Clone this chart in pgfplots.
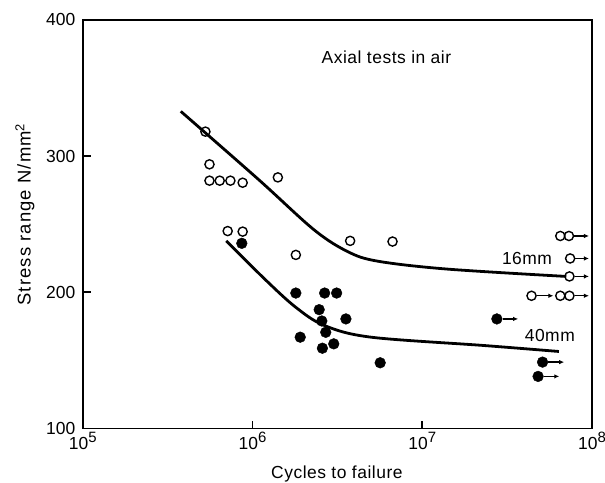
\documentclass[border=0pt]{standalone}
\usepackage{fontspec}
\setmainfont{Liberation Sans}
\newfontfamily\lsfont[LetterSpace=3]{Liberation Sans}
\newfontfamily\lsyfont[LetterSpace=6]{Liberation Sans}
\usepackage{pgfplots}
\pgfplotsset{compat=1.18}
\usetikzlibrary{arrows.meta}
\newcommand{\myfont}{\fontsize{17.5bp}{21bp}\selectfont}
\newcommand{\tp}[1]{10\raisebox{0.38em}{\fontsize{15bp}{15bp}\selectfont #1}}
\begin{document}
\begin{tikzpicture}[font=\myfont]
\begin{axis}[
  name=ax,
  scale only axis,
  width=511bp, height=410bp,
  xmode=log,
  xmin=1e5, xmax=1e8,
  ymin=100, ymax=400,
  axis line style={line width=1.8bp},
  tick style={line width=1.8bp, black},
  major tick length=8bp,
  tick align=inside,
  tick pos=left,
  xminorticks=false,
  yminorticks=false,
  xtick={1e5,1e6,1e7,1e8},
  xticklabels={\tp{5},\tp{6},\tp{7},\tp{8}},
  ytick={100,200,300,400},
  yticklabel style={xshift=-4bp},
  /pgf/number format/assume math mode=true,
  tick label style={font=\myfont},
  xlabel={Cycles to failure},
  ylabel={Stress range N/mm\textsuperscript{2}},
  xlabel style={font=\lsfont\myfont, at={(axis description cs:0.499,-0.11)}, anchor=center},
  ylabel style={font=\lsyfont\fontsize{18.5bp}{22bp}\selectfont, at={(axis description cs:-0.1135,0.524)}, anchor=center},
  clip=false,
]
% 16 mm curve
\addplot[line width=2.8bp, smooth, tension=0.55] coordinates {
 (3.78e5,332.9) (1.084e6,282.9) (2.3e6,246.0) (3.64e6,229.9) (5.46e6,222.9)
 (1.40e7,217.1) (7.05e7,211.7)};
% 40 mm curve
\addplot[line width=2.8bp, smooth, tension=0.55] coordinates {
 (7.01e5,237.8) (1.186e6,209.5) (1.80e6,189.0) (2.661e6,175.6) (4.99e6,167.1)
 (2.30e7,161.0) (6.38e7,156.6)};
% 16 mm data (open)
\addplot[only marks, mark=o, mark size=4.6bp, mark options={line width=1.4bp, fill=white}] coordinates {
 (5.28e5,318) (5.58e5,294) (5.58e5,282) (6.41e5,282) (7.41e5,282) (8.75e5,280.5)
 (1.41e6,284.4) (7.14e5,245) (8.75e5,244.6) (1.80e6,227.5) (3.76e6,237.8) (6.68e6,237.3)
 (6.50e7,241.4) (7.31e7,241.4) (7.43e7,224.9) (7.36e7,211.7) (4.40e7,197.5) (6.50e7,197.5) (7.36e7,197.5)};
% 40 mm data (filled)
\addplot[only marks, mark=*, mark size=5.4bp, black] coordinates {
 (8.65e5,236) (1.80e6,199.5) (2.66e6,199.5) (3.13e6,199.5) (2.47e6,187.3) (2.56e6,179)
 (3.55e6,180.5) (2.70e6,170.7) (1.91e6,167.1) (3.01e6,162.2) (2.58e6,159) (5.65e6,148.3)
 (2.75e7,180.5) (5.11e7,148.8) (4.81e7,138.3)};
% run-out arrows
\addplot[line width=1.3bp, -{Latex[length=5bp,width=4.5bp]}] coordinates {(7.85e7,241.4) (9.59e7,241.4)};
\addplot[line width=1.3bp, -{Latex[length=5bp,width=4.5bp]}] coordinates {(7.96e7,224.9) (9.59e7,224.9)};
\addplot[line width=1.3bp, -{Latex[length=5bp,width=4.5bp]}] coordinates {(7.91e7,211.7) (9.59e7,211.7)};
\addplot[line width=1.3bp, -{Latex[length=5bp,width=4.5bp]}] coordinates {(4.71e7,197.5) (5.92e7,197.5)};
\addplot[line width=1.3bp, -{Latex[length=5bp,width=4.5bp]}] coordinates {(7.91e7,197.5) (9.59e7,197.5)};
\addplot[line width=1.3bp, -{Latex[length=5bp,width=4.5bp]}] coordinates {(2.98e7,180.5) (3.67e7,180.5)};
\addplot[line width=1.3bp, -{Latex[length=5bp,width=4.5bp]}] coordinates {(5.53e7,148.8) (6.85e7,148.8)};
\addplot[line width=1.3bp, -{Latex[length=5bp,width=4.5bp]}] coordinates {(5.24e7,138.3) (6.41e7,138.3)};
\node[font=\lsfont\myfont] at (axis cs:6.15e6,372.9) {Axial tests in air};
\node[font=\lsfont\myfont] at (axis cs:4.14e7,225.1) {16mm};
\node[font=\lsfont\myfont] at (axis cs:5.64e7,168.3) {40mm};
\end{axis}
\pgfresetboundingbox
\path (ax.south west) ++(-83bp,-54bp) rectangle ([xshift=13bp,yshift=20bp]ax.north east);
\end{tikzpicture}
\end{document}
